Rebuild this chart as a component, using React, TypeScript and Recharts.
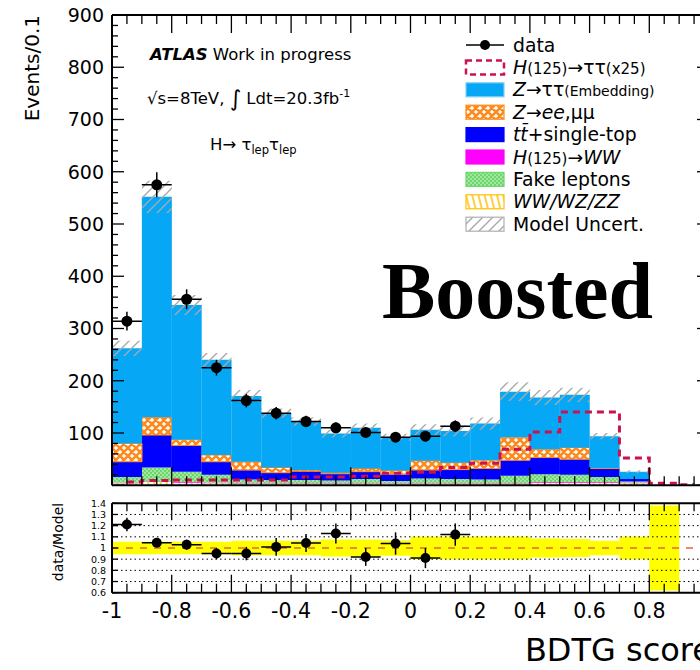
import React from "react";
import {
  ComposedChart,
  Bar,
  Line,
  Scatter,
  ErrorBar,
  XAxis,
  YAxis,
  ReferenceLine,
} from "recharts";

// BDTG score bins, width 0.1
const binLow = [-1, -0.9, -0.8, -0.7, -0.6, -0.5, -0.4, -0.3, -0.2, -0.1, 0, 0.1, 0.2, 0.3, 0.4, 0.5, 0.6, 0.7, 0.8, 0.9];

// stacked backgrounds (events / 0.1), bottom to top
const diboson = [4, 6, 5, 4, 3, 3, 3, 3, 3, 3, 3, 3, 3, 3, 5, 5, 5, 4, 0, 0];
const hww = [1, 1, 1, 1, 1, 1, 1, 1, 1, 1, 1, 1, 1, 1, 1, 1, 1, 1, 0, 0];
const fakes = [11, 27, 20, 15, 7, 6, 6, 5, 8, 4, 9, 8, 7, 14, 15, 14, 10, 2, 0, 0];
const ttbar = [29, 62, 50, 25, 18, 14, 17, 13, 14, 13, 16, 18, 21, 30, 32, 30, 16, 5, 0, 0];
const zll = [35, 34, 11, 13, 16, 10, 2, 2, 6, 7, 18, 13, 16, 44, 16, 22, 1, 0, 0, 0];
const ztt = [182, 422, 258, 182, 126, 104, 93, 75, 78, 64, 59, 61, 70, 87, 99, 101, 61, 14, 0, 0];

// H(125)->tautau signal scaled x25
const signal = [6, 9, 10, 10, 10, 10, 16, 16, 17, 23, 25, 34, 42, 69, 102, 140, 140, 52, 4, 1];

// observed data (blinded above 0.2)
const observed = [314, 575, 356, 225, 162, 138, 122, 110, 101, 92, 94, 113];
const observedErr = [18, 24, 19, 15, 13, 12, 11, 10, 10, 10, 10, 11];

// data / model ratio
const ratio = [1.21, 1.047, 1.03, 0.95, 0.95, 1.01, 1.045, 1.13, 0.92, 1.04, 0.91, 1.12];
const ratioErr = [0.06, 0.04, 0.045, 0.05, 0.06, 0.08, 0.08, 0.09, 0.08, 0.1, 0.09, 0.1];

// relative model uncertainty per bin
const relUnc = [0.056, 0.056, 0.056, 0.055, 0.065, 0.065, 0.065, 0.075, 0.075, 0.07, 0.1, 0.1, 0.1, 0.1, 0.085, 0.08, 0.065, 0.1, 0.38, null];

// axis ticks and labels
const xMajor = [-1, -0.8, -0.6, -0.4, -0.2, 0, 0.2, 0.4, 0.6, 0.8];
const xLabels = ["-1", "-0.8", "-0.6", "-0.4", "-0.2", "0", "0.2", "0.4", "0.6", "0.8"];
const yMajor = [100, 200, 300, 400, 500, 600, 700, 800, 900];
const yLabels = ["100", "200", "300", "400", "500", "600", "700", "800", "900"];
const rTicks = [0.6, 0.7, 0.8, 0.9, 1, 1.1, 1.2, 1.3, 1.4];
const rLabels = ["0.6", "0.7", "0.8", "0.9", "1", "1.1", "1.2", "1.3", "1.4"];
const rGrid = [0.7, 0.8, 0.9, 1.1, 1.2, 1.3];

const xMinor = Array.from({ length: 41 }, (_, i) => Math.round((-1 + i * 0.05) * 100) / 100);
const yMinor = Array.from({ length: 46 }, (_, i) => i * 20);

const rows = binLow.map((lo, i) => {
  const total = diboson[i] + hww[i] + fakes[i] + ttbar[i] + zll[i] + ztt[i];
  const u = relUnc[i];
  return {
    bin: lo.toFixed(1),
    center: Math.round((lo + 0.05) * 100) / 100,
    diboson: diboson[i],
    hww: hww[i],
    fakes: fakes[i],
    ttbar: ttbar[i],
    zll: zll[i],
    ztt: ztt[i],
    signal: signal[i],
    unc: u == null || total === 0 ? null : [total * (1 - u), total * (1 + u)],
    band: u == null ? null : [1 - u, 1 + u],
    data: observed[i] ?? null,
    dataErr: observedErr[i] ?? null,
    ratio: ratio[i] ?? null,
    ratioErr: ratioErr[i] ?? null,
  };
});

const CHART_W = 760;
const PLOT_L = 112;
const PLOT_R = 709;
const HALF_BIN = (PLOT_R - PLOT_L) / binLow.length / 2;
const FONT = "DejaVu Sans";
// axes get a 1px band so that recharts still draws them
const AX = 1;

const frame = { stroke: "#000", strokeWidth: 2 };
const isMajorX = (v: number) => Math.abs(v * 5 - Math.round(v * 5)) < 1e-6;

function xTick(dir: number, majorLen: number, minorLen: number, withLabels: boolean) {
  return (props: any) => {
    const { x, y, payload } = props;
    const v = payload.value as number;
    const major = isMajorX(v);
    const len = major ? majorLen : minorLen;
    const li = withLabels && major ? xMajor.findIndex((m) => Math.abs(m - v) < 1e-6) : -1;
    return (
      <g>
        <line x1={x} x2={x} y1={y} y2={y + dir * len} stroke="#000" strokeWidth={1.3} />
        {li >= 0 && (
          <text x={x} y={y + 25.5} textAnchor="middle" fontFamily={FONT} fontSize={20.5} fill="#000">
            {xLabels[li]}
          </text>
        )}
      </g>
    );
  };
}

function yTick(dir: number, majorLen: number, minorLen: number, isMajor: (v: number) => boolean, label?: (v: number) => string | null, fontSize = 19, gap = 8) {
  return (props: any) => {
    const { x, y, payload } = props;
    const v = payload.value as number;
    const major = isMajor(v);
    const len = major ? majorLen : minorLen;
    const text = label && major ? label(v) : null;
    return (
      <g>
        <line x1={x} x2={x + dir * len} y1={y} y2={y} stroke="#000" strokeWidth={1.3} />
        {text && (
          <text x={x - gap} y={y} dy="0.36em" textAnchor="end" fontFamily={FONT} fontSize={fontSize} fill="#000">
            {text}
          </text>
        )}
      </g>
    );
  };
}

function pointShape(key: "data" | "ratio", r: number) {
  return (props: any) => {
    const { cx, cy, payload } = props;
    if (payload?.[key] == null || !isFinite(cy)) return <g />;
    return (
      <g>
        <line x1={cx - HALF_BIN} x2={cx + HALF_BIN} y1={cy} y2={cy} stroke="#000" strokeWidth={1.5} />
        <circle cx={cx} cy={cy} r={r} fill="#000" />
      </g>
    );
  };
}

const mainYLabel = (v: number) => {
  const i = yMajor.indexOf(v);
  return i >= 0 ? yLabels[i] : null;
};
const ratioYLabel = (v: number) => {
  const i = rTicks.findIndex((t) => Math.abs(t - v) < 1e-6);
  return i >= 0 ? rLabels[i] : null;
};

function Patterns() {
  return (
    <svg width={0} height={0} style={{ position: "absolute" }}>
      <defs>
        <pattern id="pZll" width="8" height="8" patternUnits="userSpaceOnUse">
          <rect width="8" height="8" fill="#fff" />
          <path d="M0,0L8,8M8,0L0,8M-2,6L2,10M6,-2L10,2M-2,2L2,-2M6,10L10,6" stroke="#ff8a1c" strokeWidth="2.6" />
        </pattern>
        <pattern id="pFake" width="4" height="4" patternUnits="userSpaceOnUse">
          <rect width="4" height="4" fill="#6cd86c" />
          <circle cx="1" cy="1" r="0.7" fill="#fff" />
          <circle cx="3" cy="3" r="0.7" fill="#fff" />
        </pattern>
        <pattern id="pVV" width="6" height="14" patternUnits="userSpaceOnUse" patternTransform="rotate(-14)">
          <rect width="6" height="14" fill="#fff" />
          <line x1="3" y1="0" x2="3" y2="14" stroke="#ffc000" strokeWidth="1.5" />
        </pattern>
        <pattern id="pUnc" width="10" height="10" patternUnits="userSpaceOnUse">
          <path d="M0,10L10,0M-2,2L2,-2M8,12L12,8" stroke="#a8a8a8" strokeWidth="1.4" />
        </pattern>
      </defs>
    </svg>
  );
}

const LEG_X = 466;
const legendY = (i: number) => 45 + i * 22.4;

function Overlay() {
  const box = (i: number, fill: string, stroke: string, dash?: string) => (
    <rect x={LEG_X} y={legendY(i) - 7} width={38} height={14} fill={fill} stroke={stroke} strokeWidth={dash ? 2.5 : 1.2} strokeDasharray={dash} />
  );
  const label = (i: number, children: React.ReactNode) => (
    <text x={513} y={legendY(i) + 6.5} fontFamily={FONT} fontSize={18.8} fill="#000">
      {children}
    </text>
  );
  return (
    <svg width={700} height={670} style={{ position: "absolute", left: 0, top: 0, pointerEvents: "none" }}>
      {/* axis titles */}
      <text transform="translate(39,15) rotate(-90)" textAnchor="end" fontFamily={FONT} fontSize={20} fill="#000">
        Events/0.1
      </text>
      <text transform="translate(63,542) rotate(-90)" textAnchor="middle" fontFamily={FONT} fontSize={14} fill="#000">
        data/Model
      </text>
      <text x={712} y={661} textAnchor="end" fontFamily={FONT} fontSize={32} fill="#000">
        BDTG score
      </text>

      {/* labels */}
      <text x={150} y={60} fontFamily={FONT} fontSize={16.5} fill="#000">
        <tspan fontWeight="bold" fontStyle="italic">ATLAS</tspan>
        <tspan> Work in progress</tspan>
      </text>
      <text x={147} y={104} fontFamily={FONT} fontSize={16.5} fill="#000">
        √s=8TeV, <tspan fontSize={22} dy={2}>∫</tspan>
        <tspan dy={-2}> Ldt=20.3fb</tspan>
        <tspan fontSize={11} dy={-7}>-1</tspan>
      </text>
      <text x={210} y={150} fontFamily={FONT} fontSize={16.5} fill="#000">
        H→ τ<tspan fontSize={11.5} dy={4}>lep</tspan>
        <tspan dy={-4}>τ</tspan>
        <tspan fontSize={11.5} dy={4}>lep</tspan>
      </text>
      <text x={382} y={318} fontFamily="Liberation Serif" fontWeight="bold" fontSize={80} textLength={271} lengthAdjust="spacingAndGlyphs" fill="#000">
        Boosted
      </text>

      {/* legend */}
      <line x1={LEG_X} x2={LEG_X + 38} y1={legendY(0)} y2={legendY(0)} stroke="#000" strokeWidth={1.5} />
      <circle cx={LEG_X + 19} cy={legendY(0)} r={5} fill="#000" />
      {label(0, "data")}
      {box(1, "none", "#cc1150", "6 4")}
      {label(1, <><tspan fontStyle="italic">H</tspan><tspan fontSize={15}>(125)</tspan>→ττ<tspan fontSize={15}>(x25)</tspan></>)}
      {box(2, "#06a8f5", "#7fd0f7")}
      {label(2, <><tspan fontStyle="italic">Z</tspan>→ττ<tspan fontSize={14}>(Embedding)</tspan></>)}
      {box(3, "url(#pZll)", "#ff8a1c")}
      {label(3, <><tspan fontStyle="italic">Z</tspan>→<tspan fontStyle="italic">ee</tspan>,μμ</>)}
      {box(4, "#0000ff", "#0000ff")}
      {label(4, <><tspan fontStyle="italic">tt̄</tspan>+single-top</>)}
      {box(5, "#ff00ff", "#ff00ff")}
      {label(5, <><tspan fontStyle="italic">H</tspan><tspan fontSize={15}>(125)</tspan>→<tspan fontStyle="italic">WW</tspan></>)}
      {box(6, "url(#pFake)", "#6cd86c")}
      {label(6, "Fake leptons")}
      {box(7, "url(#pVV)", "#ffc000")}
      {label(7, <tspan fontStyle="italic">WW/WZ/ZZ</tspan>)}
      {box(8, "url(#pUnc)", "#b0b0b0")}
      {label(8, "Model Uncert.")}
    </svg>
  );
}

const axisCommon = {
  interval: 0 as const,
  tickSize: 0,
  tickMargin: 0,
  tickLine: false,
  axisLine: frame,
  allowDataOverflow: true,
};

function MainPanel() {
  return (
    <ComposedChart
      width={CHART_W}
      height={500}
      data={rows}
      margin={{ top: 15 - AX, right: CHART_W - PLOT_R - AX, bottom: 14.75 - AX, left: PLOT_L - AX }}
      barCategoryGap={0}
      barGap={0}
    >
      <XAxis xAxisId="cat" dataKey="bin" type="category" hide />
      <XAxis xAxisId="unc" dataKey="bin" type="category" hide />
      <XAxis xAxisId="bottom" dataKey="center" type="number" domain={[-1, 1]} ticks={xMinor} height={AX} {...axisCommon} tick={xTick(-1, 18, 9, false)} />
      <XAxis xAxisId="top" orientation="top" dataKey="center" type="number" domain={[-1, 1]} ticks={xMinor} height={AX} {...axisCommon} tick={xTick(1, 18, 9, false)} />
      <YAxis yAxisId="l" type="number" domain={[0, 900]} ticks={yMinor} width={AX} {...axisCommon} tick={yTick(1, 12, 6, (v) => v % 100 === 0, mainYLabel)} />
      <YAxis yAxisId="r" orientation="right" type="number" domain={[0, 900]} ticks={yMinor} width={AX} {...axisCommon} tick={yTick(-1, 12, 6, (v) => v % 100 === 0)} />

      <Bar xAxisId="cat" yAxisId="l" stackId="bkg" dataKey="diboson" fill="url(#pVV)" isAnimationActive={false} />
      <Bar xAxisId="cat" yAxisId="l" stackId="bkg" dataKey="hww" fill="#ff00ff" isAnimationActive={false} />
      <Bar xAxisId="cat" yAxisId="l" stackId="bkg" dataKey="fakes" fill="url(#pFake)" isAnimationActive={false} />
      <Bar xAxisId="cat" yAxisId="l" stackId="bkg" dataKey="ttbar" fill="#0000ff" isAnimationActive={false} />
      <Bar xAxisId="cat" yAxisId="l" stackId="bkg" dataKey="zll" fill="url(#pZll)" stroke="#ff8a1c" strokeWidth={1} isAnimationActive={false} />
      <Bar xAxisId="cat" yAxisId="l" stackId="bkg" dataKey="ztt" fill="#06a8f5" isAnimationActive={false} />
      <Bar xAxisId="unc" yAxisId="l" dataKey="unc" fill="url(#pUnc)" isAnimationActive={false} />

      <Line xAxisId="cat" yAxisId="l" type="step" dataKey="signal" stroke="#cc1150" strokeWidth={3} strokeDasharray="7 5" dot={false} isAnimationActive={false} />

      <Scatter xAxisId="cat" yAxisId="l" dataKey="data" shape={pointShape("data", 5.5)} isAnimationActive={false}>
        <ErrorBar dataKey="dataErr" direction="y" width={0} stroke="#000" strokeWidth={1.5} />
      </Scatter>
    </ComposedChart>
  );
}

function RatioPanel() {
  return (
    <ComposedChart
      width={CHART_W}
      height={180}
      data={rows}
      margin={{ top: 13.3 - AX, right: CHART_W - PLOT_R - AX, bottom: 77.3 - AX, left: PLOT_L - AX }}
      barCategoryGap={0}
      barGap={0}
    >
      <XAxis xAxisId="cat" dataKey="bin" type="category" hide />
      <XAxis xAxisId="bottom" dataKey="center" type="number" domain={[-1, 1]} ticks={xMinor} height={AX} {...axisCommon} tick={xTick(-1, 18, 9, true)} />
      <XAxis xAxisId="top" orientation="top" dataKey="center" type="number" domain={[-1, 1]} ticks={xMinor} height={AX} {...axisCommon} tick={xTick(1, 17, 8, false)} />
      <YAxis yAxisId="l" type="number" domain={[0.6, 1.4]} ticks={rTicks} width={AX} {...axisCommon} tick={yTick(1, 6, 6, () => true, ratioYLabel, 9.5, 6)} />
      <YAxis yAxisId="r" orientation="right" type="number" domain={[0.6, 1.4]} ticks={rTicks} width={AX} {...axisCommon} tick={yTick(-1, 6, 6, () => true)} />

      <Bar xAxisId="cat" yAxisId="l" dataKey="band" fill="#ffff00" isAnimationActive={false} />

      {rGrid.map((g) => (
        <ReferenceLine key={g} xAxisId="cat" yAxisId="l" y={g} stroke="#000" strokeWidth={1} strokeDasharray="1.5 3" />
      ))}
      <ReferenceLine xAxisId="cat" yAxisId="l" y={1} stroke="#f0603a" strokeWidth={1.5} strokeDasharray="7 7" />

      <Scatter xAxisId="cat" yAxisId="l" dataKey="ratio" shape={pointShape("ratio", 5)} isAnimationActive={false}>
        <ErrorBar dataKey="ratioErr" direction="y" width={0} stroke="#000" strokeWidth={1.5} />
      </Scatter>
    </ComposedChart>
  );
}

export default function App() {
  return (
    <div style={{ position: "absolute", left: 0, top: 0, width: 700, height: 670, overflow: "hidden", background: "#fff" }}>
      <Patterns />
      <div style={{ position: "absolute", left: 0, top: 0 }}>
        <MainPanel />
      </div>
      <div style={{ position: "absolute", left: 0, top: 490 }}>
        <RatioPanel />
      </div>
      <Overlay />
    </div>
  );
}
